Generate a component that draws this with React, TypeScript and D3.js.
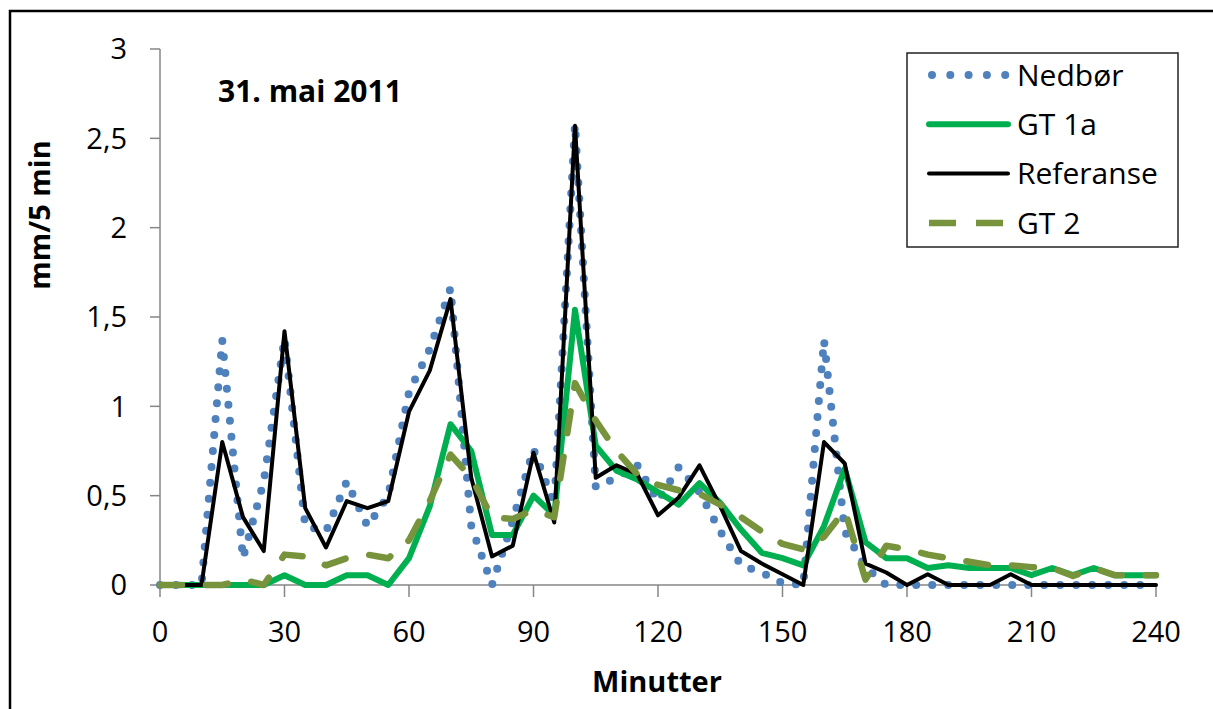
import { useEffect } from "react";
import * as d3 from "d3";

const minutes = [0, 5, 10, 15, 20, 25, 30, 35, 40, 45, 50, 55, 60, 65, 70, 75, 80, 85, 90, 95, 100, 105, 110, 115, 120, 125, 130, 135, 140, 145, 150, 155, 160, 165, 170, 175, 180, 185, 190, 195, 200, 205, 210, 215, 220, 225, 230, 235, 240];

const nedbor = [0, 0, 0, 1.37, 0.15, 0.58, 1.38, 0.33, 0.3, 0.58, 0.33, 0.5, 1.08, 1.32, 1.66, 0.33, 0, 0.36, 0.76, 0.45, 2.58, 0.55, 0.6, 0.67, 0.47, 0.66, 0.52, 0.3, 0.11, 0.07, 0.01, 0, 1.37, 0.3, 0.1, 0, 0, 0, 0, 0, 0, 0, 0, 0, 0, 0, 0, 0, 0];

const gt1a = [0, 0, 0, 0, 0, 0, 0.055, 0, 0, 0.055, 0.055, 0, 0.15, 0.44, 0.9, 0.75, 0.28, 0.28, 0.5, 0.39, 1.54, 0.78, 0.64, 0.59, 0.52, 0.45, 0.57, 0.46, 0.31, 0.18, 0.15, 0.11, 0.33, 0.65, 0.24, 0.15, 0.15, 0.095, 0.11, 0.095, 0.095, 0.095, 0.055, 0.095, 0.055, 0.095, 0.055, 0.055, 0.055];

const referanse = [0, 0, 0, 0.8, 0.38, 0.19, 1.42, 0.43, 0.21, 0.47, 0.43, 0.47, 0.97, 1.2, 1.6, 0.6, 0.16, 0.22, 0.74, 0.35, 2.57, 0.6, 0.67, 0.62, 0.39, 0.49, 0.67, 0.44, 0.19, 0.12, 0.06, 0, 0.8, 0.68, 0.12, 0.07, 0, 0.06, 0, 0, 0, 0.06, 0, 0, 0, 0, 0, 0, 0];

const gt2 = [0, 0, 0, 0, 0.03, 0, 0.17, 0.16, 0.11, 0.15, 0.17, 0.15, 0.25, 0.47, 0.73, 0.6, 0.38, 0.37, 0.42, 0.38, 1.13, 0.92, 0.75, 0.62, 0.56, 0.53, 0.51, 0.45, 0.38, 0.3, 0.23, 0.2, 0.27, 0.42, 0.03, 0.22, 0.2, 0.17, 0.15, 0.13, 0.11, 0.11, 0.1, 0.095, 0.05, 0.095, 0.055, 0.055, 0.055];

const xTicks = [0, 30, 60, 90, 120, 150, 180, 210, 240];
const yTicks = [0, 0.5, 1, 1.5, 2, 2.5, 3];

const FONT = "'Open Sans', sans-serif";
const AXIS = "#868686";

// line styles per series, in drawing order
const series = [
  { name: "Nedbør", values: nedbor, color: "#4F81BD", width: 8, dash: "0 16", legendDash: "0 18.3", cap: "round" },
  { name: "GT 1a", values: gt1a, color: "#00B050", width: 6, dash: null, legendDash: null, cap: "round" },
  { name: "Referanse", values: referanse, color: "#000000", width: 4, dash: null, legendDash: null, cap: "round" },
  { name: "GT 2", values: gt2, color: "#77933C", width: 6.5, dash: "22 24", legendDash: "27 20", cap: "round" },
];

export default function App() {
  useEffect(() => {
    document.body.style.margin = "0";
  }, []);

  const width = 1213, height = 709;
  const x = d3.scaleLinear().domain([0, 240]).range([160, 1156]);
  const y = d3.scaleLinear().domain([0, 3]).range([585, 49]);

  const line = d3.line<number>()
    .x((_, i) => x(minutes[i]))
    .y(d => y(d));

  const fmt = (v: number) => String(v).replace(".", ",");

  const legendX = 907, legendY = 53;
  const rowY = (i: number) => 75 + i * 49.3;

  return (
    <svg width={width} height={height} style={{ display: "block", background: "#fff" }} fontFamily={FONT}>
      <rect x={10} y={11} width={1230} height={720} fill="none" stroke="#000" strokeWidth={2.5} />

      {/* axes */}
      <line x1={x(0)} x2={x(0)} y1={y(3)} y2={y(0)} stroke={AXIS} strokeWidth={1.5} />
      <line x1={x(0)} x2={x(240)} y1={y(0)} y2={y(0)} stroke={AXIS} strokeWidth={1.5} />
      {yTicks.map(t => (
        <g key={"y" + t}>
          <line x1={150} x2={x(0)} y1={y(t)} y2={y(t)} stroke={AXIS} strokeWidth={1.5} />
          <text x={127} y={y(t)} dy="0.36em" textAnchor="end" fontSize={29} fill="#000">{fmt(t)}</text>
        </g>
      ))}
      {xTicks.map(t => (
        <g key={"x" + t}>
          <line x1={x(t)} x2={x(t)} y1={y(0)} y2={597} stroke={AXIS} strokeWidth={1.5} />
          <text x={x(t)} y={642} textAnchor="middle" fontSize={29} fill="#000">{t}</text>
        </g>
      ))}

      {/* series */}
      {series.map(s => (
        <path key={s.name} d={line(s.values) ?? ""} fill="none" stroke={s.color}
          strokeWidth={s.width} strokeDasharray={s.dash ?? undefined}
          strokeLinecap={s.cap as any} strokeLinejoin="round" />
      ))}

      {/* titles */}
      <text x={218} y={102} fontSize={30} fontWeight="bold" fill="#000">31. mai 2011</text>
      <text x={657} y={692} textAnchor="middle" fontSize={29} fontWeight="bold" fill="#000">Minutter</text>
      <text transform="translate(50,215) rotate(-90)" textAnchor="middle" fontSize={29} fontWeight="bold" fill="#000">mm/5 min</text>

      {/* legend */}
      <rect x={legendX} y={legendY} width={271} height={194} fill="#fff" stroke="#222" strokeWidth={1.5} />
      {series.map((s, i) => (
        <g key={"lg" + s.name}>
          <line x1={s.dash === "0 16" ? 932 : 929} x2={s.dash === "0 16" ? 1006 : 1008}
            y1={rowY(i)} y2={rowY(i)} stroke={s.color} strokeWidth={s.width}
            strokeDasharray={s.legendDash ?? undefined}
            strokeLinecap={s.dash === "22 24" ? "butt" : "round"} />
          <text x={1017} y={rowY(i)} dy="0.36em" fontSize={30} fill="#000">{s.name}</text>
        </g>
      ))}
    </svg>
  );
}
